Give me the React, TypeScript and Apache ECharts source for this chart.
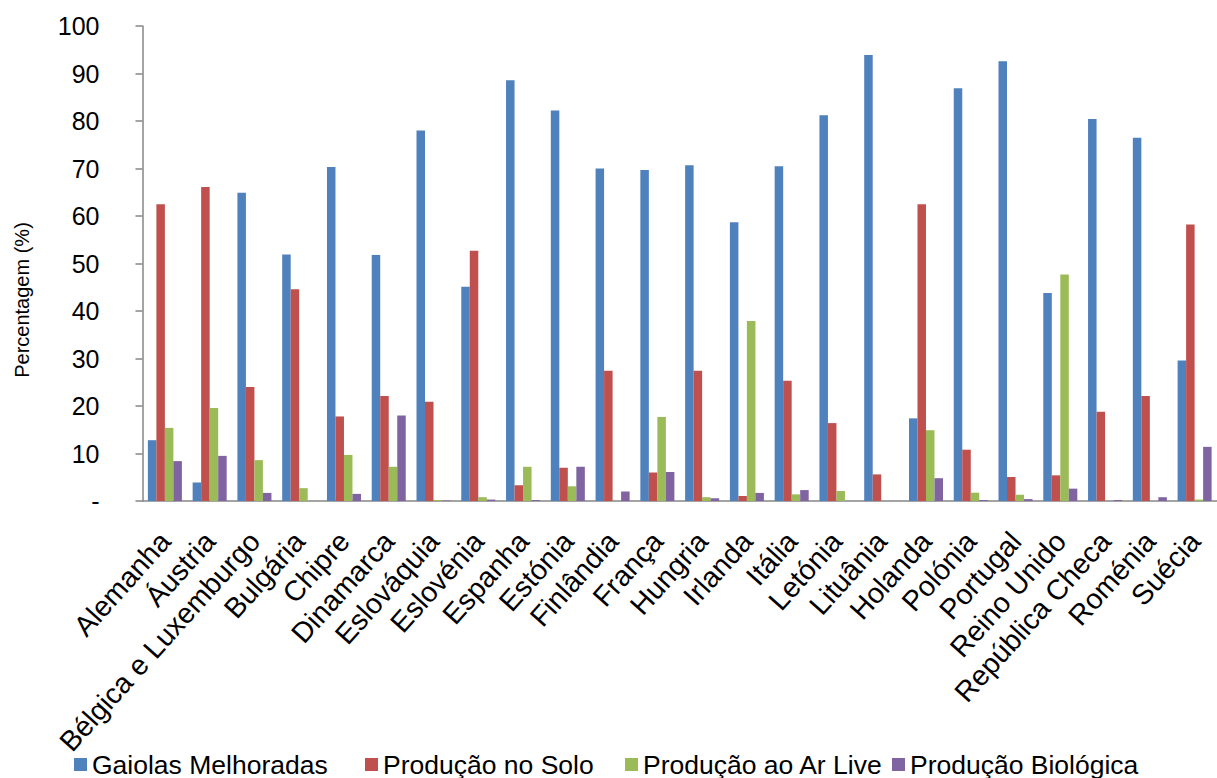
import React, { useEffect, useRef } from "react";
import * as echarts from "echarts";

const categories = [
  "Alemanha", "Áustria", "Bélgica e Luxemburgo", "Bulgária", "Chipre", "Dinamarca",
  "Eslováquia", "Eslovénia", "Espanha", "Estónia", "Finlândia", "França", "Hungria",
  "Irlanda", "Itália", "Letónia", "Lituânia", "Holanda", "Polónia", "Portugal",
  "Reino Unido", "República Checa", "Roménia", "Suécia",
];

const gaiolas = [12.8, 3.9, 64.9, 51.9, 70.3, 51.8, 78.0, 45.1, 88.6, 82.2, 70.0, 69.7, 70.7, 58.7, 70.5, 81.2, 93.9, 17.4, 86.9, 92.6, 43.8, 80.4, 76.5, 29.6];
const solo = [62.5, 66.1, 24.0, 44.6, 17.8, 22.1, 20.9, 52.7, 3.3, 7.0, 27.4, 6.0, 27.4, 1.05, 25.3, 16.4, 5.6, 62.5, 10.8, 5.05, 5.4, 18.8, 22.1, 58.2];
const arLivre = [15.4, 19.6, 8.6, 2.7, 9.7, 7.2, 0.2, 0.8, 7.2, 3.1, 0, 17.7, 0.8, 37.9, 1.4, 2.1, 0, 14.9, 1.75, 1.3, 47.7, 0, 0, 0.3];
const biologica = [8.4, 9.5, 1.7, 0, 1.5, 18.0, 0.1, 0.3, 0.2, 7.2, 2.0, 6.1, 0.6, 1.7, 2.3, 0, 0, 4.8, 0.2, 0.4, 2.6, 0.2, 0.8, 11.4];

const seriesNames = ["Gaiolas Melhoradas", "Produção no Solo", "Produção ao Ar Live", "Produção Biológica"];
const seriesColors = ["#4F81BD", "#C0504D", "#9BBB59", "#8064A2"];
const seriesData = [gaiolas, solo, arLivre, biologica];
const legendLefts = [74, 365, 625, 892];
const yAxisTitle = "Percentagem (%)";

const FONT = "'Liberation Sans', Arial, sans-serif";

export default function App() {
  const ref = useRef<HTMLDivElement>(null);
  useEffect(() => {
    if (!ref.current) return;
    const chart = echarts.init(ref.current, undefined, { renderer: "svg" });
    chart.setOption({
      animation: false,
      backgroundColor: "#ffffff",
      textStyle: { fontFamily: FONT, color: "#000" },
      grid: { left: 142.5, right: -7, top: 26, bottom: 277, containLabel: false },
      graphic: [
        {
          type: "text",
          x: 22,
          y: 300,
          rotation: Math.PI / 2,
          style: {
            text: yAxisTitle,
            fontFamily: FONT,
            fontSize: 20,
            fill: "#000",
            align: "center",
            verticalAlign: "middle",
          },
        },
      ],
      legend: seriesNames.map((n, i) => ({
        data: [n],
        left: legendLefts[i],
        top: 751,
        itemWidth: 13,
        itemHeight: 13,
        icon: "rect",
        itemGap: 0,
        textStyle: { fontFamily: FONT, fontSize: 26.5, color: "#000", lineHeight: 24 },
        padding: 0,
      })),
      xAxis: {
        type: "category",
        data: categories,
        axisLine: { lineStyle: { color: "#868686", width: 1.5 } },
        axisTick: { length: 8, lineStyle: { color: "#868686", width: 1.5 } },
        axisLabel: {
          rotate: 48,
          interval: 0,
          margin: 35,
          fontSize: 28.5,
          fontFamily: FONT,
          color: "#000",
        },
      },
      yAxis: {
        type: "value",
        min: 0,
        max: 100,
        interval: 10,
        axisLine: { show: true, lineStyle: { color: "#868686", width: 1.5 } },
        axisTick: { show: true, inside: false, length: 7, lineStyle: { color: "#868686", width: 1.5 } },
        splitLine: { show: false },
        axisLabel: {
          margin: 43,
          fontSize: 25,
          fontFamily: FONT,
          color: "#000",
          formatter: (v: number) => (v === 0 ? "-" : String(v)),
        },
      },
      series: seriesNames.map((n, i) => ({
        name: n,
        type: "bar",
        data: seriesData[i],
        barGap: "0%",
        barCategoryGap: "24%",
        itemStyle: { color: seriesColors[i] },
      })),
    });
    return () => chart.dispose();
  }, []);
  return (
    <div
      ref={ref}
      style={{ position: "fixed", left: 0, top: 0, width: 1217, height: 778 }}
    />
  );
}
